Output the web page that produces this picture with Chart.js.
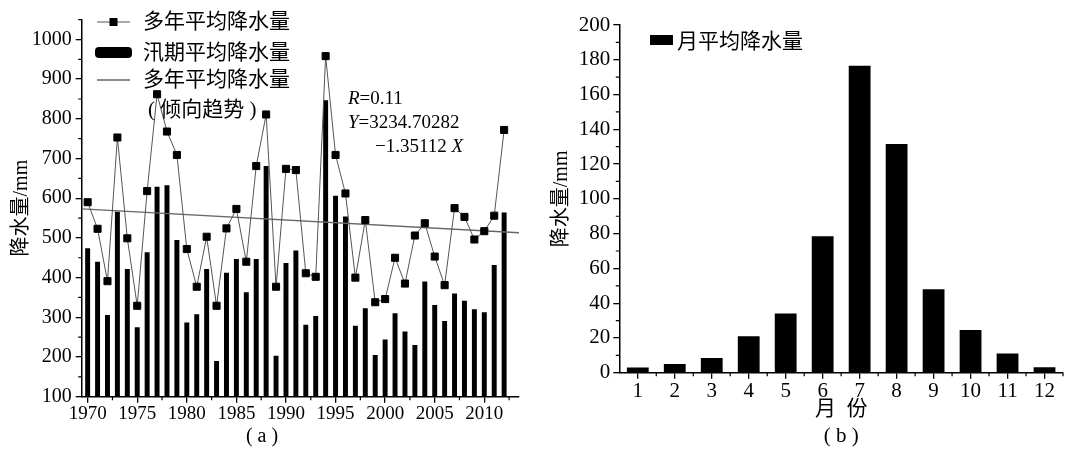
<!DOCTYPE html>
<html>
<head>
<meta charset="utf-8">
<script src="https://cdn.jsdelivr.net/npm/chart.js@4.4.1/dist/chart.umd.min.js"></script>
<style>
  body { margin: 0; background: #fff; }
  #wrap { position: relative; width: 1073px; height: 455px; }
  #chartA { position: absolute; left: 0; top: 0; }
  #chartB { position: absolute; left: 540px; top: 0; }
</style>
</head>
<body>
<div id="wrap">
  <canvas id="chartA" width="540" height="455"></canvas>
  <canvas id="chartB" width="533" height="455"></canvas>
</div>
<script>
// (a) yearly precipitation, mm
const years = [1970, 1971, 1972, 1973, 1974, 1975, 1976, 1977, 1978, 1979,
  1980, 1981, 1982, 1983, 1984, 1985, 1986, 1987, 1988, 1989,
  1990, 1991, 1992, 1993, 1994, 1995, 1996, 1997, 1998, 1999,
  2000, 2001, 2002, 2003, 2004, 2005, 2006, 2007, 2008, 2009,
  2010, 2011, 2012];
const annualRain = [590, 523, 391, 753, 499, 329, 618, 862, 768, 709,
  472, 377, 503, 329, 524, 573, 440, 681, 811, 377,
  674, 671, 411, 402, 958, 709, 612, 400, 545, 338,
  346, 450, 385, 506, 537, 453, 381, 575, 553, 496,
  517, 556, 772];
const floodRain = [474, 440, 306, 566, 422, 275, 464, 629, 633, 495,
  287, 308, 422, 190, 412, 447, 363, 447, 681, 203,
  437, 468, 281, 303, 847, 606, 554, 279, 323, 205,
  244, 310, 264, 230, 390, 331, 291, 360, 342, 320,
  313, 432, 564];
const trendYears = [1969.4, 2013.5];
const trendRain = [573, 513];
const yearTicks = [1970, 1975, 1980, 1985, 1990, 1995, 2000, 2005, 2010];
const rainTicksA = [100, 200, 300, 400, 500, 600, 700, 800, 900, 1000];

// (b) monthly precipitation, mm
const months = [1, 2, 3, 4, 5, 6, 7, 8, 9, 10, 11, 12];
const monthRain = [3, 5, 8.5, 21, 34, 78.5, 176.5, 131.5, 48, 24.5, 11, 3.2];
const rainTicksB = [0, 20, 40, 60, 80, 100, 120, 140, 160, 180, 200];

const FONT = '"Liberation Serif", "Noto Sans CJK SC", serif';

function toPoints(xs, ys) {
  return xs.map((x, i) => ({ x: x, y: ys[i] }));
}

function axis(opts) {
  return Object.assign({
    type: 'linear',
    offset: false,
    grid: { display: true, drawOnChartArea: false, drawTicks: true, tickLength: 6,
            color: '#000', lineWidth: 1.3, offset: false },
    border: { display: true, color: '#000', width: 1.5 },
  }, opts);
}

function minorTicks(chart, xMinor, yMinor) {
  const { ctx, scales: { x, y } } = chart;
  ctx.save();
  ctx.strokeStyle = '#000';
  ctx.lineWidth = 1.2;
  ctx.beginPath();
  xMinor.forEach(v => {
    const px = x.getPixelForValue(v);
    ctx.moveTo(px, x.top);
    ctx.lineTo(px, x.top + 3.5);
  });
  yMinor.forEach(v => {
    const py = y.getPixelForValue(v);
    ctx.moveTo(y.right, py);
    ctx.lineTo(y.right - 3.5, py);
  });
  ctx.stroke();
  ctx.restore();
}

function runs(ctx, parts, x, y, size) {
  parts.forEach(p => {
    ctx.font = (p[1] ? 'italic ' : '') + size + 'px ' + FONT;
    ctx.fillText(p[0], x, y);
    x += ctx.measureText(p[0]).width;
  });
}

const steps = (from, to, step) => { const a = []; for (let v = from; v <= to + 1e-9; v += step) a.push(v); return a; };

// ---------- chart (a) ----------
new Chart(document.getElementById('chartA'), {
  type: 'bar',
  data: {
    datasets: [
      { type: 'line', label: '多年平均降水量', data: toPoints(years, annualRain),
        borderColor: '#555', borderWidth: 1, pointStyle: 'rect', pointRadius: 5,
        pointBackgroundColor: '#000', pointBorderColor: '#000', pointBorderWidth: 1, order: 1 },
      { type: 'line', label: '多年平均降水量（倾向趋势）', data: toPoints(trendYears, trendRain),
        borderColor: '#666', borderWidth: 1.3, pointRadius: 0, order: 2 },
      { type: 'bar', label: '汛期平均降水量', data: toPoints(years, floodRain),
        backgroundColor: '#000', barPercentage: 0.5, categoryPercentage: 1, order: 3 }
    ]
  },
  options: {
    responsive: false,
    animation: false,
    layout: { padding: { left: 0, top: 19.6, right: 21, bottom: 0 } },
    plugins: { legend: { display: false }, tooltip: { enabled: false } },
    scales: {
      x: axis({
        min: 1969.4, max: 2013.5,
        afterBuildTicks: s => { s.ticks = yearTicks.map(v => ({ value: v })); },
        afterFit: s => { s.height = 58.3; },
        ticks: { color: '#000', font: { family: FONT, size: 19 }, padding: 0,
                 maxRotation: 0, autoSkip: false, callback: v => String(v) }
      }),
      y: axis({
        min: 100, max: 1050,
        afterBuildTicks: s => { s.ticks = rainTicksA.map(v => ({ value: v })); },
        afterFit: s => { s.width = 81.7; },
        ticks: { color: '#000', font: { family: FONT, size: 20 }, padding: 4,
                 callback: v => String(v) },
        title: { display: true, text: '降水量/mm', color: '#000',
                 font: { family: FONT, size: 20 }, padding: { top: 10, bottom: 0 } }
      })
    }
  },
  plugins: [{
    id: 'extrasA',
    afterDraw(chart) {
      const ctx = chart.ctx;
      minorTicks(chart, steps(1972.5, 2012.5, 5), steps(150, 1050, 100));
      ctx.save();
      ctx.fillStyle = '#000';
      ctx.textBaseline = 'middle';
      ctx.textAlign = 'left';
      // legend
      ctx.strokeStyle = '#555';
      ctx.lineWidth = 1;
      ctx.beginPath(); ctx.moveTo(97, 22); ctx.lineTo(130, 22); ctx.stroke();
      ctx.fillRect(109.5, 18, 8, 8);
      ctx.beginPath(); ctx.roundRect(95, 47, 37, 11, 4); ctx.fill();
      ctx.strokeStyle = '#666';
      ctx.lineWidth = 1.3;
      ctx.beginPath(); ctx.moveTo(97, 80); ctx.lineTo(130, 80); ctx.stroke();
      ctx.font = '21px ' + FONT;
      ctx.fillText('多年平均降水量', 143, 22);
      ctx.fillText('汛期平均降水量', 143, 53);
      ctx.fillText('多年平均降水量', 143, 80);
      ctx.fillText('( 倾向趋势 )', 148, 110);
      // regression note
      runs(ctx, [['R', true], ['=0.11', false]], 348, 99, 19);
      runs(ctx, [['Y', true], ['=3234.70282', false]], 348, 123, 19);
      runs(ctx, [['\u22121.35112 ', false], ['X', true]], 375, 147, 19);
      // panel caption
      ctx.textAlign = 'center';
      ctx.font = '20px ' + FONT;
      ctx.fillText('( a )', 262, 437);
      ctx.restore();
    }
  }]
});

// ---------- chart (b) ----------
new Chart(document.getElementById('chartB'), {
  type: 'bar',
  data: {
    datasets: [
      { label: '月平均降水量', data: toPoints(months, monthRain),
        backgroundColor: '#000', barPercentage: 0.59, categoryPercentage: 1 }
    ]
  },
  options: {
    responsive: false,
    animation: false,
    layout: { padding: { left: 0, top: 25, right: 10, bottom: 0 } },
    plugins: { legend: { display: false }, tooltip: { enabled: false } },
    scales: {
      x: axis({
        min: 0.5, max: 12.5,
        afterBuildTicks: s => { s.ticks = months.map(v => ({ value: v })); },
        afterFit: s => { s.height = 82.3; },
        ticks: { color: '#000', font: { family: FONT, size: 21 }, padding: 0,
                 maxRotation: 0, autoSkip: false, callback: v => String(v) },
        title: { display: true, text: ['月  份', '( b )'], color: '#000',
                 font: { family: FONT, size: 21, lineHeight: 1.3 }, padding: { top: 0, bottom: 4.5 } }
      }),
      y: axis({
        min: 0, max: 200,
        afterBuildTicks: s => { s.ticks = rainTicksB.map(v => ({ value: v })); },
        afterFit: s => { s.width = 79.3; },
        ticks: { color: '#000', font: { family: FONT, size: 21 }, padding: 3,
                 callback: v => String(v) },
        title: { display: true, text: '降水量/mm', color: '#000',
                 font: { family: FONT, size: 20 }, padding: { top: 10, bottom: 0 } }
      })
    }
  },
  plugins: [{
    id: 'extrasB',
    afterDraw(chart) {
      const ctx = chart.ctx;
      minorTicks(chart, steps(1.5, 12.5, 1), steps(10, 190, 20));
      ctx.save();
      ctx.fillStyle = '#000';
      ctx.fillRect(110, 35, 23, 10);
      ctx.textBaseline = 'middle';
      ctx.font = '21px ' + FONT;
      ctx.fillText('月平均降水量', 137, 42);
      ctx.restore();
    }
  }]
});
</script>
</body>
</html>
